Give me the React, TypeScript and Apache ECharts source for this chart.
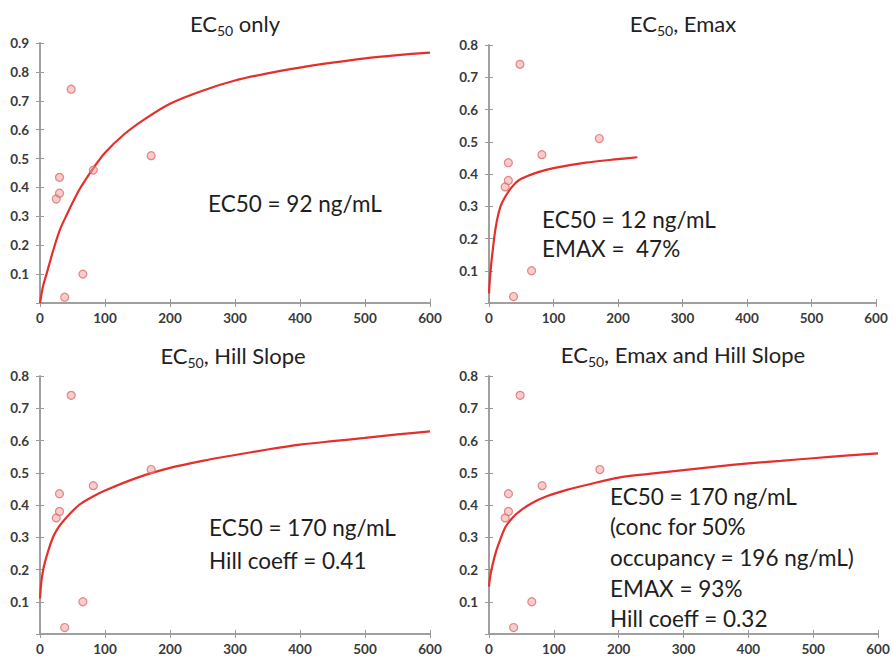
import React, { useEffect, useRef } from "react";
import * as echarts from "echarts";

// Observed data (same measurements in all four panels)
const concentrations = [25, 30, 30, 48, 38, 66, 82, 171];
const responses = [0.36, 0.38, 0.435, 0.74, 0.02, 0.1, 0.46, 0.51];

// Fitted curves
const fit1X = [0, 3, 6, 10, 15, 20, 30, 40, 60, 80, 100, 130, 160, 200, 250, 300, 350, 400, 450, 500, 550, 600];
const fit1Y = [0.0, 0.04, 0.07, 0.1, 0.14, 0.18, 0.25, 0.3, 0.39, 0.46, 0.52, 0.585, 0.635, 0.69, 0.735, 0.77, 0.795, 0.815, 0.832, 0.847, 0.858, 0.867];

const fit2X = [0, 2, 5, 10, 15, 20, 30, 40, 50, 75, 100, 150, 200, 230];
const fit2Y = [0.03, 0.09, 0.15, 0.23, 0.28, 0.31, 0.345, 0.37, 0.385, 0.405, 0.418, 0.435, 0.446, 0.452];

const fit3X = [0, 2, 5, 10, 20, 30, 40, 60, 80, 100, 150, 200, 250, 300, 350, 400, 450, 500, 550, 600];
const fit3Y = [0.11, 0.16, 0.2, 0.24, 0.3, 0.335, 0.36, 0.4, 0.425, 0.445, 0.485, 0.515, 0.537, 0.555, 0.572, 0.587, 0.598, 0.608, 0.619, 0.628];

const fit4X = [0, 2, 5, 10, 15, 25, 36, 50, 70, 90, 120, 150, 200, 250, 300, 350, 400, 450, 500, 550, 600];
const fit4Y = [0.147, 0.18, 0.21, 0.25, 0.28, 0.33, 0.36, 0.385, 0.41, 0.428, 0.447, 0.462, 0.485, 0.497, 0.508, 0.519, 0.529, 0.537, 0.545, 0.553, 0.56];

const xTickLabels = ["0", "100", "200", "300", "400", "500", "600"];
const yMax = [0.9, 0.8, 0.8, 0.8];

const titles = [
  ["EC", "50", " only"],
  ["EC", "50", ", Emax"],
  ["EC", "50", ", Hill Slope"],
  ["EC", "50", ", Emax and Hill Slope"],
];

const notes = [
  ["EC50 = 92 ng/mL"],
  ["EC50 = 12 ng/mL", "EMAX =  47%"],
  ["EC50 = 170 ng/mL", "Hill coeff = 0.41"],
  ["EC50 = 170 ng/mL", "(conc for 50%", "occupancy = 196 ng/mL)", "EMAX = 93%", "Hill coeff = 0.32"],
];

const FONT = "Lato, 'Open Sans', sans-serif";

const grids = [
  { left: 40, top: 43, width: 390, height: 260 },
  { left: 489, top: 45, width: 387, height: 258 },
  { left: 40, top: 376, width: 390, height: 259 },
  { left: 489, top: 376, width: 389, height: 258 },
];
const titlePos = [
  [235, 23],
  [683, 23],
  [233, 355],
  [683, 354],
];
const notePos = [
  [208, 203, 30],
  [542, 219, 29],
  [209, 527, 33],
  [610, 496, 30.7],
];

export default function App() {
  const ref = useRef<HTMLDivElement>(null);
  useEffect(() => {
    if (!ref.current) return;
    const chart = echarts.init(ref.current, null, { renderer: "svg" });
    const fits = [
      [fit1X, fit1Y],
      [fit2X, fit2Y],
      [fit3X, fit3Y],
      [fit4X, fit4Y],
    ];
    const xAxis: any[] = [];
    const yAxis: any[] = [];
    const series: any[] = [];
    const graphic: any[] = [];
    const axisLine = { show: true, lineStyle: { color: "#9a9a9a", width: 1.5 } };
    const axisTick = { show: true, inside: true, length: 4, lineStyle: { color: "#9a9a9a" } };
    const labelStyle = { color: "#3a3a3a", fontFamily: FONT, fontWeight: "bold", fontSize: 13.5 };

    grids.forEach((g, i) => {
      xAxis.push({
        type: "value", gridIndex: i, min: 0, max: 600, interval: 100, position: "bottom",
        axisLine, axisTick, splitLine: { show: false },
        axisLabel: { ...labelStyle, margin: 8, formatter: (v: number) => xTickLabels[Math.round(v / 100)] ?? "" },
      });
      xAxis.push({
        type: "value", gridIndex: i, min: 0, max: 600, interval: 100, position: "top",
        axisLine, axisTick, splitLine: { show: false }, axisLabel: { show: false },
      });
      yAxis.push({
        type: "value", gridIndex: i, min: 0, max: yMax[i], interval: 0.1, position: "left",
        axisLine, axisTick, splitLine: { show: false },
        axisLabel: { ...labelStyle, margin: 11, formatter: (v: number) => (v < 0.05 ? "" : v.toFixed(1)) },
      });
      yAxis.push({
        type: "value", gridIndex: i, min: 0, max: yMax[i], interval: 0.1, position: "right",
        axisLine, axisTick, splitLine: { show: false }, axisLabel: { show: false },
      });
      const [fx, fy] = fits[i];
      series.push({
        type: "line", xAxisIndex: 2 * i, yAxisIndex: 2 * i, smooth: 0.3, symbol: "none",
        lineStyle: { color: "#e3302c", width: 2.2 },
        data: fx.map((x, k) => [x, fy[k]]), z: 3,
      });
      series.push({
        type: "scatter", xAxisIndex: 2 * i, yAxisIndex: 2 * i, symbol: "circle", symbolSize: 8,
        itemStyle: { color: "rgba(240,150,150,0.6)", borderColor: "#e06a6a", borderWidth: 1.2 },
        data: concentrations.map((x, k) => [x, responses[k]]), z: 4,
      });
      const t = titles[i];
      graphic.push({
        type: "text", x: titlePos[i][0], y: titlePos[i][1],
        style: {
          text: `{n|${t[0]}}{s|${t[1]}}{n|${t[2]}}`,
          align: "center", verticalAlign: "middle",
          rich: {
            n: { fontFamily: FONT, fontSize: 22, lineHeight: 28, fill: "#222", verticalAlign: "middle" },
            s: { fontFamily: FONT, fontSize: 14, lineHeight: 28, fill: "#222", verticalAlign: "bottom" },
          },
        },
      });
      notes[i].forEach((line, k) => {
        graphic.push({
          type: "text", x: notePos[i][0], y: notePos[i][1] + k * notePos[i][2],
          style: { text: line, fontFamily: FONT, fontSize: 22.5, fill: "#1e1e1e", verticalAlign: "middle", align: "left" },
          z: 10,
        });
      });
    });

    chart.setOption({
      animation: false,
      backgroundColor: "#fff",
      grid: grids.map((g) => ({ ...g, containLabel: false })),
      xAxis, yAxis, series, graphic,
    });
    return () => chart.dispose();
  }, []);
  return <div ref={ref} style={{ width: 893, height: 656, position: "absolute", left: 0, top: 0 }} />;
}
